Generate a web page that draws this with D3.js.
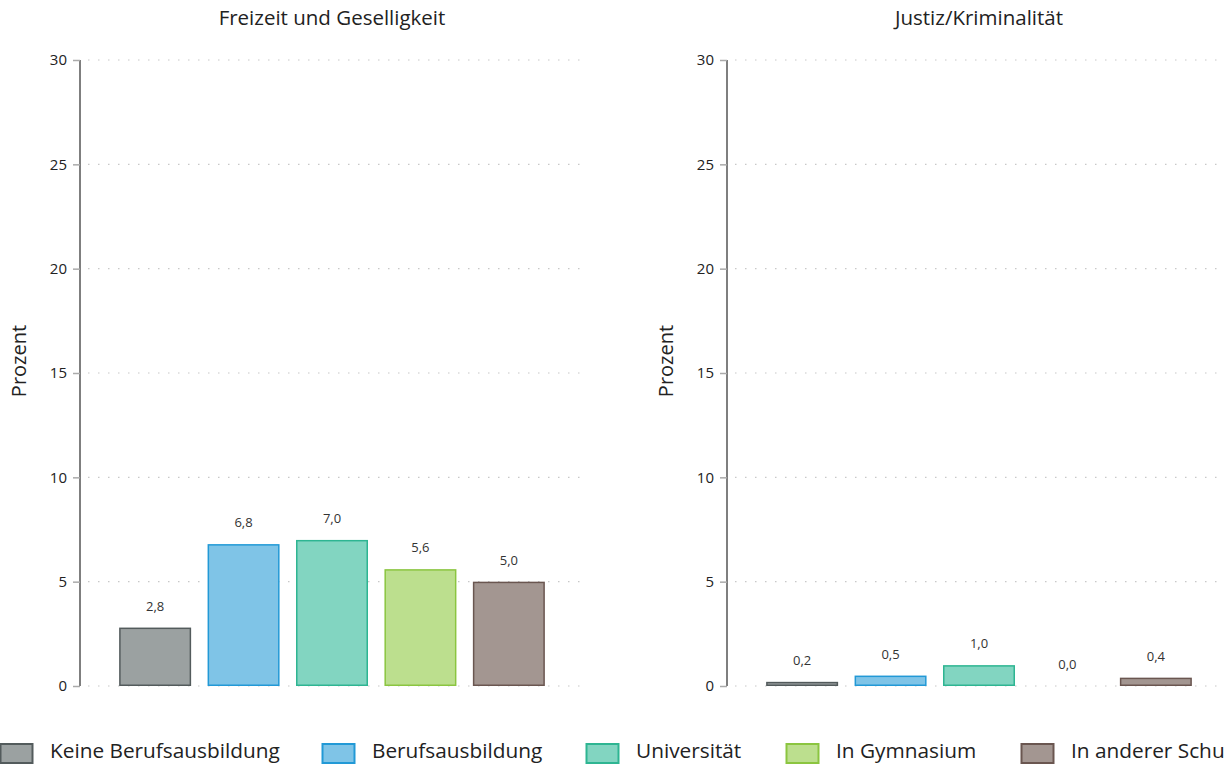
<!DOCTYPE html>
<html>
<head>
<meta charset="utf-8">
<script src="https://cdn.jsdelivr.net/npm/d3@7"></script>
<style>
  html, body { margin: 0; padding: 0; background: #fff; overflow: hidden; }
  svg { display: block; font-family: "Open Sans", "Noto Sans", sans-serif; }
</style>
</head>
<body>
<svg id="chart" width="1225" height="764"></svg>
<script>
const categories = ["Keine Berufsausbildung", "Berufsausbildung", "Universität", "In Gymnasium", "In anderer Schule"];
const panelTitles = ["Freizeit und Geselligkeit", "Justiz/Kriminalität"];
const freizeitValues = [2.8, 6.8, 7.0, 5.6, 5.0];
const justizValues = [0.2, 0.5, 1.0, 0.0, 0.4];
const yTicks = [0, 5, 10, 15, 20, 25, 30];
const yLabel = "Prozent";

const fills = ["#9ba1a1", "#7fc4e7", "#82d5c1", "#bcdf8e", "#a39691"];
const strokes = ["#535b5c", "#2299d6", "#2eb592", "#8bc540", "#6a5650"];

const svg = d3.select("#chart");
const panels = [
  { title: panelTitles[0], values: freizeitValues, x0: 80 },
  { title: panelTitles[1], values: justizValues, x0: 727 }
];
const plotW = 500, yTop = 60, yBot = 686;
const fmt = v => d3.format(".1f")(v).replace(".", ",");

panels.forEach(p => {
  const g = svg.append("g");
  const y = d3.scaleLinear().domain([0, 30]).range([yBot, yTop]);
  const x = d3.scaleBand().domain(categories).range([p.x0 + 2, p.x0 + 2 + plotW])
    .paddingInner(0.186).paddingOuter(0.42);

  // gridlines
  g.selectAll("line.grid").data(yTicks).join("line")
    .attr("x1", p.x0 + 8).attr("x2", p.x0 + plotW)
    .attr("y1", d => y(d)).attr("y2", d => y(d))
    .attr("stroke", "#c8c8c8").attr("stroke-width", 1.2)
    .attr("stroke-dasharray", "1.5,8.5");

  // axis
  const axis = d3.axisLeft(y).tickValues(yTicks).tickSize(7).tickPadding(6).tickFormat(d3.format("d"));
  const ag = g.append("g").attr("transform", `translate(${p.x0},0)`).call(axis);
  ag.select(".domain").attr("stroke", "#555").attr("stroke-width", 1.5).attr("d", `M0,${yTop}V${yBot}`);
  ag.selectAll(".tick line").attr("stroke", "#aaa").attr("stroke-width", 1.5);
  ag.selectAll(".tick text").attr("font-size", 15).attr("fill", "#222")
    .attr("font-family", "'Open Sans', 'Noto Sans', sans-serif");

  // y label
  g.append("text")
    .attr("transform", `translate(${p.x0 - 54},361) rotate(-90)`)
    .attr("text-anchor", "middle").attr("font-size", 20).attr("fill", "#222")
    .text(yLabel);

  // title
  g.append("text").attr("x", p.x0 + 252).attr("y", 25)
    .attr("text-anchor", "middle").attr("font-size", 20.5).attr("fill", "#222")
    .text(p.title);

  // bars
  g.selectAll("rect.bar").data(p.values).join("rect")
    .attr("x", (d, i) => x(categories[i]) + 0.75)
    .attr("width", x.bandwidth() - 1.5)
    .attr("y", d => y(d) + 0.75)
    .attr("height", d => Math.max(0, yBot - y(d) - 1.5))
    .attr("fill", (d, i) => fills[i])
    .attr("stroke", (d, i) => d > 0 ? strokes[i] : "none")
    .attr("stroke-width", 1.5);

  // value labels
  g.selectAll("text.val").data(p.values).join("text")
    .attr("x", (d, i) => x(categories[i]) + x.bandwidth() / 2)
    .attr("y", d => y(d) - 17)
    .attr("text-anchor", "middle").attr("font-size", 13).attr("fill", "#333")
    .text(d => fmt(d));
});

// legend
const legendX = [0, 322, 586, 786, 1021];
const lg = svg.append("g");
categories.forEach((c, i) => {
  lg.append("rect").attr("x", legendX[i] + 0.5).attr("y", 744).attr("width", 32).attr("height", 19)
    .attr("fill", fills[i]).attr("stroke", strokes[i]).attr("stroke-width", 2);
  lg.append("text").attr("x", legendX[i] + 50).attr("y", 758)
    .attr("font-size", 20.8).attr("fill", "#222").text(c);
});
</script>
</body>
</html>
